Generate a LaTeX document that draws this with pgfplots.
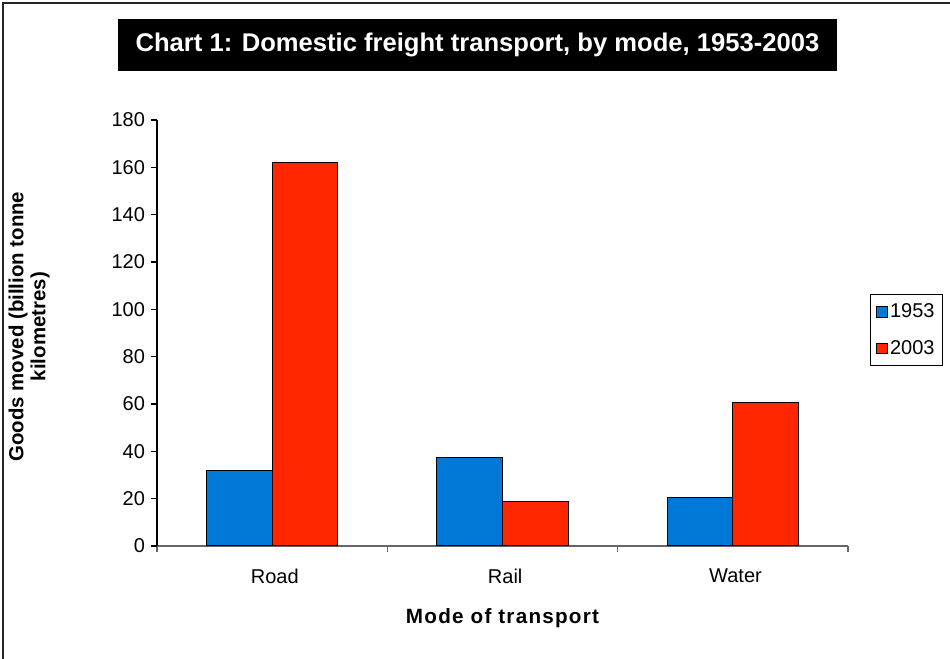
\documentclass[border=0pt]{standalone}
\usepackage{pgfplots}
\pgfplotsset{compat=1.18}
\usepackage{fontspec}
\setmainfont{Liberation Sans}
\definecolor{barblue}{RGB}{0,120,215}
\definecolor{barred}{RGB}{255,38,0}
\begin{document}
\begin{tikzpicture}[x=0.75pt,y=0.75pt]
\useasboundingbox (0,0) rectangle (950,659);
\draw[line width=1.5pt,black!85] (3,-20) -- (3,656) -- (1000,656);
\fill[black] (118,588) rectangle (837,640);
\node[text=white,font=\fontsize{19.2}{22}\selectfont\bfseries] at (477.5,614) {Chart 1: Domestic freight transport, by mode, 1953-2003};
\begin{axis}[
  at={(117.75pt,84.75pt)}, anchor=south west,
  scale only axis, width=518.25pt, height=319.5pt,
  xmin=-0.5, xmax=2.5, ymin=0, ymax=180,
  ytick={0,20,...,180},
  xtick={0,1,2}, xticklabels={Road,Rail,Water},
  major x tick style={draw=none},
  minor xtick={-0.5,0.5,1.5,2.5},
  minor x tick style={gray!80!black, line width=0.8pt},
  minor tick length=4.5pt,
  axis x line*=bottom, axis y line*=left,
  x axis line style={gray!80!black, line width=0.9pt},
  y axis line style={black, line width=0.8pt},
  y tick style={black, line width=0.8pt},
  tick align=outside, major tick length=4.5pt,
  ticklabel style={font=\fontsize{15}{18}\selectfont},
  /pgf/number format/assume math mode=true,
  xticklabel style={yshift=-9pt, xshift=2pt},
  yticklabel style={xshift=-1pt},
  xlabel={Mode of transport},
  xlabel style={font=\fontsize{15.5}{18}\selectfont\bfseries\addfontfeature{LetterSpace=6}, at={(0.5,-0.169)}, anchor=center},
  ylabel={Goods moved (billion tonne\\kilometres)},
  ylabel style={font=\fontsize{15.3}{16.5}\selectfont\bfseries, align=center, at={(-0.185,0.515)}, anchor=center},
  ybar, bar width=0.2857,
  legend style={at={(1.0318,0.5915)}, anchor=north west, draw=black, line width=0.9pt,
    font=\fontsize{15}{18}\selectfont, inner xsep=4pt, inner ysep=5pt, row sep=11.5pt},
  legend cell align=left,
  legend image code/.code={\draw[#1, line width=0.6pt] (0pt,-4pt) rectangle (8pt,4pt);},
]
\addplot[fill=barblue, draw=black, line width=0.75pt, bar shift=-0.14285] coordinates {(0,32.1) (1,37.2) (2,20.3)};
\addplot[fill=barred, draw=black, line width=0.75pt, bar shift=0.14285] coordinates {(0,162) (1,18.6) (2,60.6)};
\legend{1953\hspace{12pt},2003\hspace{12pt}}
\end{axis}
\end{tikzpicture}
\end{document}
